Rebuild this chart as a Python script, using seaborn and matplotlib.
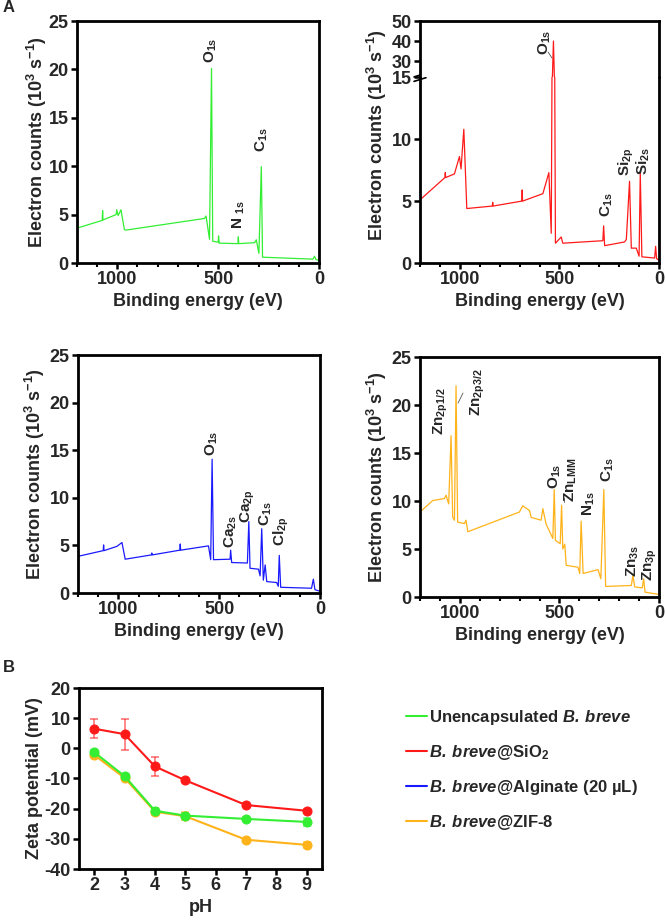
import numpy as np
import pandas as pd
import matplotlib
matplotlib.use('Agg')
import matplotlib.pyplot as plt
import seaborn as sns
from matplotlib.lines import Line2D
from matplotlib.ticker import MultipleLocator

sns.set_style('ticks')
plt.rcParams['font.family'] = ['Liberation Sans', 'DejaVu Sans']
plt.rcParams['font.weight'] = 'bold'
plt.rcParams['axes.labelweight'] = 'bold'
plt.rcParams['mathtext.fontset'] = 'custom'
plt.rcParams['mathtext.rm'] = 'Liberation Sans'
plt.rcParams['mathtext.bf'] = 'Liberation Sans:bold'
plt.rcParams['mathtext.it'] = 'Liberation Sans:italic'
plt.rcParams['mathtext.bfit'] = 'Liberation Sans:italic:bold'
plt.rcParams['axes.unicode_minus'] = False

GREEN = '#33EE33'
RED = '#FF1A1A'
BLUE = '#1A1AFF'
ORANGE = '#FFB31A'

# XPS survey spectra (binding energy eV, counts 10^3/s)
green_be = [1200, 1075, 1073, 1071, 1006, 1003, 996, 982, 965, 957, 568, 560, 543, 533, 527,
            500, 498, 495, 402, 400, 398, 319, 311, 298, 286, 280, 30, 22, 15, 3]
green_cps = [3.6, 4.4, 5.4, 4.45, 5.0, 5.5, 4.9, 5.5, 3.45, 3.4, 4.6, 4.85, 2.45, 20.1, 2.25,
             2.15, 2.8, 2.05, 2.0, 2.7, 2.0, 2.1, 2.4, 1.0, 9.95, 0.6, 0.4, 0.7, 0.35, 0.3]

red_be = [1200, 1075, 1073, 1071, 1027, 1002, 994, 980, 965, 837, 835, 833, 689, 687, 685,
          583, 553, 541, 530, 520, 491, 483, 282, 278, 273, 173, 164, 148, 139, 114, 100,
          94, 86, 22, 17, 12, 3]
red_cps = [5.1, 6.9, 7.3, 6.9, 7.2, 8.6, 7.6, 10.8, 4.4, 4.6, 4.9, 4.6, 5.0, 5.9, 5.0,
           5.6, 7.3, 2.4, 40.0, 1.6, 2.1, 1.6, 1.8, 3.0, 1.4, 1.7, 1.9, 6.6, 1.2, 1.2, 0.55,
           7.3, 0.5, 0.4, 1.35, 0.35, 0.25]

blue_be = [1200, 1075, 1073, 1071, 1007, 982, 966, 836, 834, 832, 695, 693, 691, 553, 542,
           535, 528, 446, 443, 438, 360, 353, 347, 305, 297, 289, 281, 272, 264, 215, 207,
           202, 195, 42, 33, 25, 3]
blue_cps = [3.85, 4.45, 5.05, 4.45, 4.9, 5.3, 3.55, 4.0, 4.2, 4.0, 4.5, 5.15, 4.5, 4.95, 3.5,
            14.05, 3.5, 3.55, 4.5, 3.2, 3.15, 7.5, 2.6, 2.5, 1.8, 6.75, 1.35, 2.95, 1.2, 1.1, 0.7,
            3.95, 0.6, 0.5, 1.45, 0.35, 0.2]

orange_be = [1200, 1136, 1078, 1069, 1056, 1044, 1036, 1027, 1019, 1011, 977, 969, 960, 701,
             684, 650, 642, 592, 583, 567, 533, 526, 520, 496, 489, 483, 473, 466, 407, 398,
             391, 381, 306, 292, 277, 268, 139, 131, 122, 84, 77, 70, 3]
orange_cps = [8.85, 10.05, 10.25, 10.6, 9.7, 16.8, 8.3, 8.0, 22.0, 7.8, 7.65, 8.0, 6.8, 8.85,
              9.5, 9.0, 8.3, 8.0, 9.2, 7.6, 6.1, 11.2, 5.9, 5.55, 9.55, 5.0, 5.5, 3.3, 3.1, 2.45,
              7.9, 2.45, 2.85, 1.9, 11.2, 1.1, 1.2, 2.25, 1.05, 0.95, 1.9, 0.5, 0.28]

# peak labels: text, x (eV), y (counts)
green_peaks = [(r'O$_{\mathregular{1s}}$', 535, 22.0), (r'N $_{\mathregular{1s}}$', 397, 5.0),
               (r'C$_{\mathregular{1s}}$', 286, 12.7)]
red_peaks = [(r'C$_{\mathregular{1s}}$', 262, 4.7), (r'Si$_{\mathregular{2p}}$', 166, 8.2),
             (r'Si$_{\mathregular{2s}}$', 77, 8.2)]
blue_peaks = [(r'O$_{\mathregular{1s}}$', 535, 15.7), (r'Ca$_{\mathregular{2s}}$', 441, 6.5),
              (r'Ca$_{\mathregular{2p}}$', 357, 9.1), (r'C$_{\mathregular{1s}}$', 271, 8.3),
              (r'Cl$_{\mathregular{2p}}$', 190, 6.5)]
orange_peaks = [(r'Zn$_{\mathregular{2p1/2}}$', 1094, 19.4), (r'Zn$_{\mathregular{2p3/2}}$', 910, 21.3),
                (r'O$_{\mathregular{1s}}$', 525, 12.6), (r'Zn$_{\mathregular{LMM}}$', 441, 12.2),
                (r'N$_{\mathregular{1s}}$', 352, 9.7), (r'C$_{\mathregular{1s}}$', 256, 13.3),
                (r'Zn$_{\mathregular{3s}}$', 130, 3.8), (r'Zn$_{\mathregular{3p}}$', 44, 3.4)]

# zeta potential
ph = [2, 3, 4, 5, 7, 9]
zeta_green = [-1.3, -9.2, -20.7, -22.3, -23.4, -24.4]
err_green = [0.6, 0.6, 0.9, 0.9, 0.7, 1.2]
zeta_red = [6.5, 4.7, -6.0, -10.6, -18.8, -20.7]
err_red = [3.2, 5.1, 3.1, 0.6, 0.6, 0.6]
zeta_orange = [-2.2, -9.8, -21.0, -22.5, -30.3, -32.0]
err_orange = [0.6, 0.6, 1.1, 1.3, 0.6, 0.9]

legend_labels = ['Unencapsulated $\\mathbfit{B.\\:breve}$',
                 '$\\mathbfit{B.\\:breve}$@SiO$_\\mathbf{2}$',
                 '$\\mathbfit{B.\\:breve}$@Alginate (20 \u00b5L)',
                 '$\\mathbfit{B.\\:breve}$@ZIF-8']
legend_colors = [GREEN, RED, BLUE, ORANGE]

YLAB = r'Electron counts (10$^\mathbf{3}$ s$^\mathbf{-1}$)'
FS = 13
PFS = 11

W, H = 666, 921
fig = plt.figure(figsize=(W / 100, H / 100), dpi=100)


def box(x0, y0, x1, y1):
    return [x0 / W, 1 - y1 / H, (x1 - x0) / W, (y1 - y0) / H]


def style(ax):
    for s in ax.spines.values():
        s.set_linewidth(2.0)
        s.set_color('black')
    ax.tick_params(which='major', direction='out', length=4, width=1.8, labelsize=FS,
                   color='black', pad=2)
    ax.tick_params(which='minor', direction='out', length=3, width=1.5, color='black')
    for t in ax.get_xticklabels() + ax.get_yticklabels():
        t.set_fontweight('bold')


def spectrum(ax, be, cps, color):
    df = pd.DataFrame({'be': be, 'cps': cps})
    sns.lineplot(data=df, x='be', y='cps', color=color, lw=0.9, sort=False,
                 estimator=None, legend=False, ax=ax)
    ax.set_xlim(1200, 0)
    ax.set_xticks([1000, 500, 0])
    ax.xaxis.set_minor_locator(MultipleLocator(100))
    ax.set_xlabel('Binding energy (eV)', fontsize=FS, fontweight='bold', labelpad=3)
    ax.set_ylabel('')


def peaks(ax, items):
    for txt, x, y in items:
        ax.text(x, y, txt, rotation=90, ha='center', va='center', fontsize=PFS,
                fontweight='bold')


def ylab(ax, xpos, ypos=0.5):
    ax.set_ylabel(YLAB, fontsize=FS, fontweight='bold')
    ax.yaxis.set_label_coords(xpos, ypos)


# top-left
ax1 = fig.add_axes(box(77, 21, 319, 263))
spectrum(ax1, green_be, green_cps, GREEN)
ax1.set_ylim(0, 25)
ax1.set_yticks(range(0, 26, 5))
peaks(ax1, green_peaks)
ylab(ax1, -0.115)
style(ax1)

# top-right, broken y axis
ax2 = fig.add_axes(box(420, 77.3, 659, 263))
ax2h = fig.add_axes(box(420, 21, 659, 77.3))
spectrum(ax2, red_be, red_cps, RED)
spectrum(ax2h, red_be, red_cps, RED)
ax2.set_ylim(0, 15)
ax2.set_yticks([0, 5, 10, 15])
ax2h.set_ylim(21.9, 50)
ax2h.set_yticks([30, 40, 50])
ax2h.set_xlabel('')
ax2h.tick_params(axis='x', which='both', bottom=False, labelbottom=False)
peaks(ax2, red_peaks)
ax2h.text(572, 39.4, r'O$_{\mathregular{1s}}$', rotation=90, ha='center', va='center',
          fontsize=PFS, fontweight='bold')
ax2h.plot([557, 537], [34.5, 31.5], color='#555555', lw=0.6)
ylab(ax2, -0.128, 0.69)
style(ax2)
style(ax2h)
ax2.spines['top'].set_visible(False)
ax2h.spines['bottom'].set_visible(False)
for dy in (-0.012, 0.012):
    ax2.plot([-0.025, 0.025], [1.0 + dy - 0.01, 1.0 + dy + 0.01], transform=ax2.transAxes,
             color='black', lw=1.2, clip_on=False)

# bottom-left
ax3 = fig.add_axes(box(78, 355, 320, 593))
spectrum(ax3, blue_be, blue_cps, BLUE)
ax3.set_ylim(0, 25)
ax3.set_yticks(range(0, 26, 5))
peaks(ax3, blue_peaks)
ylab(ax3, -0.128)
style(ax3)

# bottom-right
ax4 = fig.add_axes(box(420, 357, 659, 597))
spectrum(ax4, orange_be, orange_cps, ORANGE)
ax4.set_ylim(0, 25)
ax4.set_yticks(range(0, 26, 5))
peaks(ax4, orange_peaks)
ax4.plot([1009, 984], [20.2, 21.25], color='#555555', lw=0.6)
ax4.plot([477, 477], [9.9, 10.3], color='#555555', lw=0.6)
ylab(ax4, -0.128)
style(ax4)

# zeta potential
ax5 = fig.add_axes(box(79, 688, 322, 869))
for z, e, c in [(zeta_orange, err_orange, ORANGE), (zeta_green, err_green, GREEN),
                (zeta_red, err_red, RED)]:
    ax5.errorbar(ph, z, yerr=e, fmt='none', ecolor=c, alpha=0.6, elinewidth=1.2,
                 capsize=3, capthick=1.2)
    sns.lineplot(x=ph, y=z, color=c, marker='o', markersize=6.5, markeredgecolor=c,
                 lw=1.5, legend=False, ax=ax5)
ax5.set_xlim(1.5, 9.5)
ax5.set_ylim(-40, 20)
ax5.set_xticks(range(2, 10))
ax5.set_yticks(range(-40, 21, 10))
ax5.set_xlabel('pH', fontsize=FS, fontweight='bold', labelpad=3)
ax5.set_ylabel('Zeta potential (mV)', fontsize=FS, fontweight='bold')
ax5.yaxis.set_label_coords(-0.148, 0.5)
style(ax5)

handles = [Line2D([], [], color=c, lw=1.5) for c in legend_colors]
fig.legend(handles, legend_labels, loc='upper left', bbox_to_anchor=(406 / W, 1 - 708 / H),
           frameon=False, handlelength=1.25, handletextpad=0.15,
           labelspacing=0.95, borderpad=0, borderaxespad=0, prop={'weight': 'bold', 'size': 12})

fig.text(3 / W, 1 - 8 / H, 'A', fontsize=12, fontweight='bold', va='center', ha='left')
fig.text(3 / W, 1 - 667 / H, 'B', fontsize=12, fontweight='bold', va='center', ha='left')

fig.savefig('out.png', dpi=100)
